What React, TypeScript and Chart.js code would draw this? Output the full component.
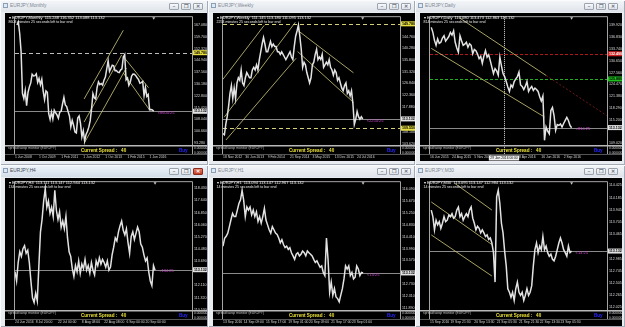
import React, { useEffect, useRef } from 'react';
import { Chart, registerables } from 'chart.js';
Chart.register(...registerables);

const FONT = '"Liberation Sans", Arial, Helvetica, sans-serif';

// ---------- Monthly ----------
const MONTHLY_CLOSE = [
  167.1, 169.0, 161.8, 150.6, 124.3, 121.1, 126.1,
  116.6, 124.9, 128.4, 130.9, 136.3, 135.2, 135.4, 136.5, 131.2, 133.7, 129.7, 133.2,
  125.8, 120.5, 125.9, 125.0, 111.6, 108.0, 112.7, 108.3, 113.9, 112.2, 110.9, 108.8,
  112.7, 113.2, 117.7, 121.8, 117.1, 116.1, 113.0, 110.2, 103.4, 107.5, 104.4, 100.2,
  99.6, 108.9, 110.2, 105.6, 97.2, 101.0, 94.5, 98.6, 100.5, 103.2, 107.1, 114.6,
  124.2, 121.6, 120.8, 128.0, 131.5, 129.8, 130.5, 129.5, 132.6, 134.5, 139.6, 144.7,
  138.1, 140.0, 141.9, 141.6, 138.5, 138.6, 137.6, 137.3, 138.9, 139.7, 147.1, 148.6,
  132.9, 134.0, 129.4, 131.3, 135.2, 136.4, 136.3, 135.4, 134.1, 132.9, 130.7, 131.1,
  131.8, 122.9, 128.0, 122.5, 123.6, 114.2, 114.3, 114.0, 113.1,
];
const MONTHLY_X_LABELS = ['1 Jun 2008', '1 Oct 2009', '1 Feb 2011', '1 Jun 2012', '1 Oct 2013', '1 Feb 2015', '1 Jun 2016'];
const MONTHLY_X_AT = [-1.4, 16, 32, 48, 64, 80, 96];
const MONTHLY_Y_TICKS = [167.08, 159.7, 152.32, 144.94, 137.56, 130.18, 122.8, 115.42, 108.04, 100.66, 93.28];
const MONTHLY_LEVELS = [149.78];
const MONTHLY_CHANNELS = [
  [48.6, 120.8, 77, 163.8],
  [48.6, 106.4, 75.8, 148.4],
  [48.6, 93.1, 79.2, 140.2],
  [77, 147.4, 95.2, 127.9],
  [77, 137.1, 96.3, 113.6],
];

// ---------- Weekly ----------
const WEEKLY_CLOSE = [
  107.5, 107, 111, 114, 118, 123, 126, 121, 125, 121,
  127, 129, 128, 132, 127, 126, 129, 131, 130, 129,
  129, 132, 133, 132, 134, 132, 136, 139, 142, 144.5,
  142, 139, 139, 141, 143, 141, 142, 141, 141, 139,
  139, 138, 139, 138, 137, 136, 137, 138, 139, 137,
  136, 141, 145, 147, 149.3, 145, 140, 133, 135, 134,
  131, 129, 127, 129, 134, 135, 138, 140, 136, 137,
  136, 138, 133, 134, 135, 134, 136, 133, 132, 130,
  132, 131, 128, 129, 127, 125, 124, 126, 127, 123,
  124, 122, 124, 119, 111, 113, 116, 114, 113, 114,
  113.1,
];
const WEEKLY_X_LABELS = ['18 Nov 2012', '30 Jun 2013', '9 Feb 2014', '21 Sep 2014', '3 May 2015', '13 Dec 2015', '24 Jul 2016'];
const WEEKLY_X_AT = [0, 16, 32, 48, 64, 80, 96];
const WEEKLY_Y_TICKS = [144.76, 140.28, 135.8, 131.32, 126.84, 122.36, 117.88, 108.1, 103.62];
const WEEKLY_LEVELS = [149.78, 109.55];
const WEEKLY_CHANNELS = [
  [-0.2, 128.3, 29.5, 149.2],
  [0.9, 113.8, 51.8, 150.4],
  [2.1, 105.0, 52.3, 136.5],
  [53.4, 147.3, 93.4, 130.9],
  [53.4, 139.1, 93.4, 119.5],
];

// ---------- Daily ----------
const DAILY_CLOSE = [
  139.4, 138.1, 136.0, 134.7, 136.4, 135.2, 135.5, 136.6, 137.2, 135.8,
  136.4, 137.0, 138.1, 137.4, 138.5, 135.5, 134.0, 132.9, 137.2, 135.9,
  134.7, 135.0, 135.5, 134.2, 135.1, 134.7, 132.5, 133.6, 133.3, 132.4,
  131.2, 131.8, 130.0, 131.9, 133.3, 131.6, 132.2, 130.7, 129.0, 127.3,
  128.6, 128.0, 126.9, 131.6, 129.3, 127.3, 126.5, 125.2, 123.8, 122.6,
  124.3, 123.7, 125.2, 125.9, 126.5, 127.7, 124.3, 123.9, 123.1, 124.0,
  125.2, 122.6, 123.4, 123.9, 122.9, 123.5, 123.1, 122.6, 121.2, 120.1,
  121.4, 109.8, 113.3, 112.2, 111.5, 117.6, 118.4, 116.3, 112.4, 113.9,
  113.7, 114.1, 113.3, 114.2, 115.0, 115.8, 115.0, 113.7, 113.1,
];
const DAILY_X_LABELS = ['16 Jun 2015', '24 Aug 2015', '5 Nov 2015', '8 Apr 2016', '16 Jun 2016', '2 Sep 2016'];
const DAILY_X_AT = [-0.8, 13, 27, 55, 69, 83];
const DAILY_Y_TICKS = [139.92, 136.83, 133.74, 130.65, 127.56, 124.47, 121.38, 118.29, 115.2, 109.02];
const DAILY_LEVELS = [132.49, 125.88];
const DAILY_CHANNELS = [
  [17, 142.08, 72, 126.8],
  [0, 133.9, 71, 115.9],
];
const DAILY_CHANNEL_EXT = [72, 126.8, 110, 116.3];
const DAILY_CROSS_AT = 45.6;
const DAILY_CROSS_LABEL = '29 Jan 2016 00:00';

// ---------- H4 ----------
const H4_CLOSE = [
  113.0, 112.4, 113.6, 114.3, 114.0, 114.5, 114.7, 114.2, 114.4, 113.6,
  112.4, 111.3, 111.0, 111.6, 111.1, 113.4, 115.6, 116.4, 117.6, 118.4,
  117.2, 117.6, 116.8, 117.2, 116.6, 118.3, 117.0, 116.4, 116.9, 115.9,
  116.3, 115.8, 116.6, 115.2, 114.3, 114.0, 113.2, 112.7, 113.4, 113.0,
  113.7, 112.9, 113.5, 113.2, 113.8, 113.1, 113.4, 112.9, 113.6, 113.1,
  112.8, 113.7, 113.4, 113.9, 113.5, 113.8, 113.6, 113.3, 113.7, 113.1,
  113.3, 114.1, 114.6, 115.2, 115.0, 115.6, 116.0, 116.3, 115.7, 115.4,
  115.8, 114.9, 114.2, 115.3, 115.6, 115.1, 115.5, 115.9, 115.6, 114.8,
  114.6, 114.1, 113.7, 113.9, 113.0, 112.4, 112.1, 113.4, 113.1,
];
const H4_X_LABELS = ['24 Jun 2016', '8 Jul 20:00', '22 Jul 00:00', '8 Aug 08:00', '22 Aug 08:00', '6 Sep 00:00', '20 Sep 00:00'];
const H4_X_AT = [0, 13, 27, 42, 56, 70, 82];
const H4_Y_TICKS = [118.43, 117.64, 116.85, 116.06, 115.27, 114.48, 113.69, 112.11, 111.32, 110.53];

// ---------- H1 ----------
const H1_CLOSE = [
  114.07, 114.35, 114.42, 114.53, 114.76, 115.0, 115.22, 115.11, 115.11, 115.34,
  115.57, 115.7, 116.03, 115.68, 115.11, 115.45, 115.34, 115.45, 115.17, 115.34,
  115.11, 115.28, 114.94, 115.11, 114.88, 115.11, 115.4, 114.99, 114.82, 114.65,
  114.53, 114.76, 114.65, 114.53, 114.48, 114.36, 114.19, 114.3, 114.13, 114.02,
  114.07, 113.96, 114.02, 113.84, 113.73, 113.61, 113.79, 113.84, 113.73, 113.79,
  113.9, 113.84, 113.73, 113.9, 113.84, 113.79, 113.73, 113.61, 113.5, 113.56,
  113.44, 113.33, 113.38, 113.15, 113.04, 114.36, 113.6, 112.46, 112.81, 112.35,
  112.58, 112.29, 112.23, 112.12, 112.35, 112.58, 112.92, 113.38, 113.27, 113.38,
  113.04, 113.15, 112.92, 112.98, 113.38, 113.27, 113.04, 113.15, 113.13,
];
const H1_X_LABELS = ['13 Sep 2016', '14 Sep 09:00', '15 Sep 17:00', '19 Sep 01:00', '20 Sep 09:00', '21 Sep 17:00', '23 Sep 01:00'];
const H1_X_AT = [0, 13, 27, 41, 54, 68, 81];
const H1_Y_TICKS = [116.09, 115.67, 115.25, 114.83, 114.41, 113.99, 113.57, 112.73, 112.31, 111.89];

// ---------- M30 ----------
const M30_CLOSE = [
  113.94, 113.81, 113.55, 113.74, 113.65, 113.71, 113.58, 113.68, 113.81, 113.71,
  113.74, 113.84, 113.81, 113.87, 113.78, 113.81, 113.94, 114.0, 113.81, 113.87,
  113.74, 113.81, 113.87, 113.81, 113.94, 114.0, 113.78, 113.68, 113.55, 113.62,
  113.58, 113.49, 113.55, 113.49, 113.42, 113.45, 113.36, 113.39, 113.29, 113.1,
  112.52, 114.2, 114.33, 114.07, 113.68, 113.49, 113.13, 112.84, 112.39, 112.32,
  112.22, 112.32, 112.16, 112.39, 112.52, 112.32, 112.26, 112.32, 112.16, 112.26,
  112.39, 112.26, 112.32, 112.45, 112.84, 113.16, 113.29, 113.1, 113.23, 113.16,
  113.42, 113.16, 113.23, 113.1, 113.03, 113.07, 112.97, 112.94, 113.03, 113.16,
  113.29, 113.39, 113.29, 113.16, 113.1, 113.03, 113.23, 113.1, 113.13,
];
const M30_X_LABELS = ['15 Sep 2016', '19 Sep 21:30', '20 Sep 13:30', '21 Sep 05:30', '21 Sep 21:30', '22 Sep 13:30', '23 Sep 05:30'];
const M30_X_AT = [-0.8, 12, 27, 41, 55, 68, 81];
const M30_Y_TICKS = [114.425, 114.185, 113.945, 113.705, 113.465, 112.985, 112.745, 112.505, 112.265, 112.025];
const M30_CHANNELS = [
  [15, 114.46, 38, 113.94],
  [0, 114.1, 38, 113.26],
  [0, 113.45, 38, 112.64],
];

const CURRENT_PRICE = 113.132;
const SPREAD = 40;

type Level = { value: number; color: string; dash: number[]; bg: string; fg: string };
type Line = { pts: number[]; color: string; dash?: number[] };
interface PanelCfg {
  left: number; top: number; width: number; height: number;
  title: string; header: string; left2: string; countdown: string; active?: boolean;
  values: number[]; xMin: number; xMax: number; yMin: number; yMax: number;
  yTicks: number[]; xAt: number[]; xLabels: string[];
  lines: Line[]; levels: Level[];
  cross?: { at: number; label: string };
}

const CH = '#d2ca7c';
const chan = (arr: number[][]): Line[] => arr.map((p) => ({ pts: p, color: CH }));

const PANELS: PanelCfg[] = [
  {
    left: 0, top: 0, width: 208, height: 165, title: 'EURJPY,Monthly',
    header: 'EURJPY,Monthly  115.248 116.352 113.088 113.132', left2: '8604 minutes 25 seconds left to bar end', countdown: '<8604:25',
    values: MONTHLY_CLOSE, xMin: -1.4, xMax: 126.7, yMin: 92.05, yMax: 172,
    yTicks: MONTHLY_Y_TICKS, xAt: MONTHLY_X_AT, xLabels: MONTHLY_X_LABELS,
    lines: chan(MONTHLY_CHANNELS),
    levels: MONTHLY_LEVELS.map((v) => ({ value: v, color: '#bdbdbd', dash: [4, 3], bg: '#e8e040', fg: '#000' })),
  },
  {
    left: 208, top: 0, width: 207, height: 165, title: 'EURJPY,Weekly',
    header: 'EURJPY,Weekly  111.145 113.180 111.095 113.132', left2: '2254 minutes 25 seconds left to bar end', countdown: '<2254:25',
    values: WEEKLY_CLOSE, xMin: 0, xMax: 126.7, yMin: 103.08, yMax: 152.35,
    yTicks: WEEKLY_Y_TICKS, xAt: WEEKLY_X_AT, xLabels: WEEKLY_X_LABELS,
    lines: chan(WEEKLY_CHANNELS),
    levels: WEEKLY_LEVELS.map((v) => ({ value: v, color: '#d6cf7a', dash: [4, 3], bg: '#e8e040', fg: '#000' })),
  },
  {
    left: 415, top: 0, width: 210, height: 165, title: 'EURJPY,Daily',
    header: 'EURJPY,Daily  113.080 113.473 112.863 113.132', left2: '814 minutes 25 seconds left to bar end', countdown: '<814:25',
    values: DAILY_CLOSE, xMin: -0.8, xMax: 110.2, yMin: 108.57, yMax: 142.08,
    yTicks: DAILY_Y_TICKS, xAt: DAILY_X_AT, xLabels: DAILY_X_LABELS,
    lines: [...chan(DAILY_CHANNELS), { pts: DAILY_CHANNEL_EXT, color: '#8a2020', dash: [2, 2] }],
    levels: [
      { value: DAILY_LEVELS[0], color: '#b01818', dash: [3, 2], bg: '#d02020', fg: '#fff' },
      { value: DAILY_LEVELS[1], color: '#20b020', dash: [3, 2], bg: '#20c020', fg: '#000' },
    ],
    cross: { at: DAILY_CROSS_AT, label: DAILY_CROSS_LABEL },
  },
  {
    left: 0, top: 165, width: 208, height: 162, title: 'EURJPY,H4', active: true,
    header: 'EURJPY,H4  113.111 113.147 112.944 113.132', left2: '134 minutes 25 seconds left to bar end', countdown: '<134:25',
    values: H4_CLOSE, xMin: 0, xMax: 111.2, yMin: 110.51, yMax: 118.83,
    yTicks: H4_Y_TICKS, xAt: H4_X_AT, xLabels: H4_X_LABELS, lines: [], levels: [],
  },
  {
    left: 208, top: 165, width: 207, height: 162, title: 'EURJPY,H1',
    header: 'EURJPY,H1  113.094 113.147 112.967 113.132', left2: '14 minutes 25 seconds left to bar end', countdown: '<14:25',
    values: H1_CLOSE, xMin: 0, xMax: 111.2, yMin: 111.83, yMax: 116.32,
    yTicks: H1_Y_TICKS, xAt: H1_X_AT, xLabels: H1_X_LABELS, lines: [], levels: [],
  },
  {
    left: 415, top: 165, width: 210, height: 162, title: 'EURJPY,M30',
    header: 'EURJPY,M30  113.095 113.147 112.984 113.132', left2: '14 minutes 25 seconds left to bar end', countdown: '<14:25',
    values: M30_CLOSE, xMin: -0.8, xMax: 110.2, yMin: 111.97, yMax: 114.49,
    yTicks: M30_Y_TICKS, xAt: M30_X_AT, xLabels: M30_X_LABELS,
    lines: chan(M30_CHANNELS), levels: [],
  },
];

const BW = 202;
const BH = 148;

function Panel({ cfg }: { cfg: PanelCfg }) {
  const ref = useRef<HTMLCanvasElement>(null);
  useEffect(() => {
    const canvas = ref.current!;
    const overlay = {
      id: 'mt4overlay',
      beforeDatasetsDraw(chart: any) {
        const { ctx, chartArea: a, scales } = chart;
        const x = scales.x, y = scales.y;
        ctx.save();
        ctx.lineWidth = 1;
        const cy = Math.round(y.getPixelForValue(CURRENT_PRICE)) + 0.5;
        ctx.strokeStyle = '#8a8a8a';
        ctx.beginPath(); ctx.moveTo(a.left, cy); ctx.lineTo(a.right, cy); ctx.stroke();
        for (const L of cfg.levels) {
          const py = Math.round(y.getPixelForValue(L.value)) + 0.5;
          ctx.strokeStyle = L.color; ctx.setLineDash(L.dash);
          ctx.beginPath(); ctx.moveTo(a.left, py); ctx.lineTo(a.right, py); ctx.stroke();
        }
        if (cfg.cross) {
          const px = Math.round(x.getPixelForValue(cfg.cross.at)) + 0.5;
          ctx.setLineDash([1, 1]); ctx.strokeStyle = '#d8d8d8';
          ctx.beginPath(); ctx.moveTo(px, a.top); ctx.lineTo(px, a.bottom + 10); ctx.stroke();
        }
        ctx.restore();
      },
      afterDraw(chart: any) {
        const { ctx, chartArea: a, scales, width } = chart;
        const x = scales.x, y = scales.y;
        ctx.save();
        ctx.strokeStyle = '#a4a4a4'; ctx.lineWidth = 1;
        ctx.beginPath();
        ctx.moveTo(a.left - 0.5, a.bottom + 9); ctx.lineTo(a.left - 0.5, a.top - 0.5);
        ctx.lineTo(a.right + 0.5, a.top - 0.5); ctx.lineTo(a.right + 0.5, a.bottom + 9);
        ctx.stroke();
        ctx.fillStyle = '#b8b8b8'; ctx.fillRect(0, a.bottom, width, 1.5);
        ctx.fillStyle = '#555'; ctx.fillRect(0, a.bottom + 9, width, 1);
        const sx = x.getPixelForValue(cfg.values.length - 1);
        ctx.fillStyle = '#c8c8c8';
        ctx.beginPath(); ctx.moveTo(sx - 1.5, a.top); ctx.lineTo(sx + 1.5, a.top); ctx.lineTo(sx, a.top + 2.5); ctx.closePath(); ctx.fill();
        ctx.textBaseline = 'middle'; ctx.textAlign = 'left';
        const tag = (v: number, bg: string, fg: string) => {
          const py = y.getPixelForValue(v);
          ctx.fillStyle = bg; ctx.fillRect(a.right + 1, py - 2.5, width - a.right - 1, 5);
          ctx.fillStyle = fg; ctx.font = `bold 3.6px ${FONT}`;
          ctx.fillText(v.toFixed(3), a.right + 2, py + 0.2);
        };
        for (const L of cfg.levels) tag(L.value, L.bg, L.fg);
        tag(CURRENT_PRICE, '#e2e2e2', '#000');
        ctx.fillStyle = '#c848c8'; ctx.font = `4px ${FONT}`;
        ctx.fillText(cfg.countdown, sx + 4, y.getPixelForValue(CURRENT_PRICE) + 1.5);
        if (cfg.cross) {
          const px = x.getPixelForValue(cfg.cross.at);
          ctx.font = `3.3px ${FONT}`;
          const w = ctx.measureText(cfg.cross.label).width + 3;
          ctx.fillStyle = '#f0f0f0'; ctx.fillRect(px - w / 2, a.bottom + 10.5, w, 5);
          ctx.fillStyle = '#000'; ctx.textAlign = 'center';
          ctx.fillText(cfg.cross.label, px, a.bottom + 13.2);
        }
        ctx.restore();
      },
    };
    const chart = new Chart(canvas, {
      type: 'line',
      data: {
        datasets: [
          {
            data: cfg.values.map((v, i) => ({ x: i, y: v })),
            borderColor: '#e2e2e2', borderWidth: 1.5, pointRadius: 0, tension: 0,
          },
          ...cfg.lines.map((l) => ({
            data: [{ x: l.pts[0], y: l.pts[1] }, { x: l.pts[2], y: l.pts[3] }],
            borderColor: l.color, borderWidth: 0.8, borderDash: l.dash || [], pointRadius: 0,
          })),
        ],
      } as any,
      options: {
        animation: false,
        responsive: false,
        maintainAspectRatio: false,
        layout: { padding: { left: 2, top: 2, right: 0, bottom: 0 } },
        plugins: { legend: { display: false }, tooltip: { enabled: false } },
        scales: {
          x: {
            type: 'linear', min: cfg.xMin, max: cfg.xMax,
            grid: { display: false, drawTicks: false }, border: { display: false },
            afterBuildTicks: (s: any) => { s.ticks = cfg.xAt.map((v) => ({ value: v })); },
            afterFit: (s: any) => { s.height = 16; },
            ticks: {
              autoSkip: false, maxRotation: 0, minRotation: 0, align: 'start', padding: 10,
              color: '#d4d4d4', font: { size: 3.4, family: FONT },
              callback: (_v: any, i: number) => cfg.xLabels[i],
            },
          },
          y: {
            type: 'linear', position: 'right', min: cfg.yMin, max: cfg.yMax,
            grid: { display: false, drawTicks: false }, border: { display: false },
            afterBuildTicks: (s: any) => { s.ticks = cfg.yTicks.map((v) => ({ value: v })); },
            afterFit: (s: any) => { s.width = 15; },
            ticks: {
              autoSkip: false, padding: 2, color: '#dcdcdc', font: { size: 3.6, family: FONT },
              callback: (v: any) => Number(v).toFixed(3),
            },
          },
        },
      } as any,
      plugins: [overlay],
    });
    return () => chart.destroy();
  }, [cfg]);

  const btn = (left: number, glyph: string, red?: boolean) => (
    <div style={{
      position: 'absolute', left, top: 3, width: 10, height: 7, boxSizing: 'border-box',
      border: `1px solid ${red ? '#8a2a1a' : '#9aa3ae'}`, borderRadius: 1,
      background: red ? 'linear-gradient(#e8806a,#c23a22)' : 'linear-gradient(#f8f9fb,#dde2e8)',
      color: red ? '#fff' : '#6a7380', font: `bold 4.5px ${FONT}`, lineHeight: '5px', textAlign: 'center',
    }}>{glyph}</div>
  );

  const small = (s: number, extra: React.CSSProperties = {}): React.CSSProperties => ({
    position: 'absolute', font: `${s}px ${FONT}`, whiteSpace: 'pre', lineHeight: `${s + 1}px`, ...extra,
  });

  return (
    <div style={{
      position: 'absolute', left: cfg.left, top: cfg.top, width: cfg.width, height: cfg.height,
      background: '#e9edf2', boxShadow: 'inset 1px 1px 0 #fafbfc, inset -1px -1px 0 #a3acb6',
    }}>
      <div style={{
        position: 'absolute', left: 1, top: 1, right: 1, height: 11,
        background: cfg.active ? 'linear-gradient(#eef3f9,#d3deea)' : 'linear-gradient(#f3f5f8,#dfe4ea)',
      }} />
      <div style={{
        position: 'absolute', left: 3, top: 3, width: 5, height: 5, boxSizing: 'border-box',
        border: '1px solid #8aa0b8', background: '#dfe9f4',
      }} />
      <div style={small(4.8, { left: 10, top: 2.5, color: cfg.active ? '#404a56' : '#7d8894' })}>{cfg.title}</div>
      {btn(169, '–')}
      {btn(181, '❐')}
      {btn(193, '✕', cfg.active)}
      <div style={{ position: 'absolute', left: 5, top: 13, width: BW, height: BH, background: '#000', overflow: 'hidden' }}>
        <canvas ref={ref} width={BW} height={BH} style={{ position: 'absolute', left: 0, top: 0, width: BW, height: BH }} />
        <div style={small(4, { left: 4, top: 1.5, color: '#f0f0f0' })}>{'▾ ' + cfg.header}</div>
        <div style={small(3.6, { left: 3.5, top: 7, color: '#e8e8e8' })}>{cfg.left2}</div>
        <div style={small(3.4, { left: 3, top: 133, color: '#bdbdbd' })}>spread/swap monitor (EURJPY)</div>
        <div style={{ ...small(4.6, { left: 76, top: 135, color: '#ece23a' }), fontWeight: 'bold' }}>{`Current Spread :   ${SPREAD}`}</div>
        <div style={{ ...small(4.6, { left: 174, top: 135, color: '#2626ff' }), fontWeight: 'bold' }}>Buy</div>
        <div style={small(3.2, { left: 189, top: 133, color: '#d0d0d0' })}>0.000000</div>
        <div style={small(3.2, { left: 189, top: 137.5, color: '#d0d0d0' })}>0.000000</div>
      </div>
    </div>
  );
}

export default function App() {
  return (
    <div style={{ position: 'fixed', left: 0, top: 0, width: 625, height: 327, background: '#d9dee4', overflow: 'hidden' }}>
      {PANELS.map((p, i) => <Panel key={i} cfg={p} />)}
    </div>
  );
}
